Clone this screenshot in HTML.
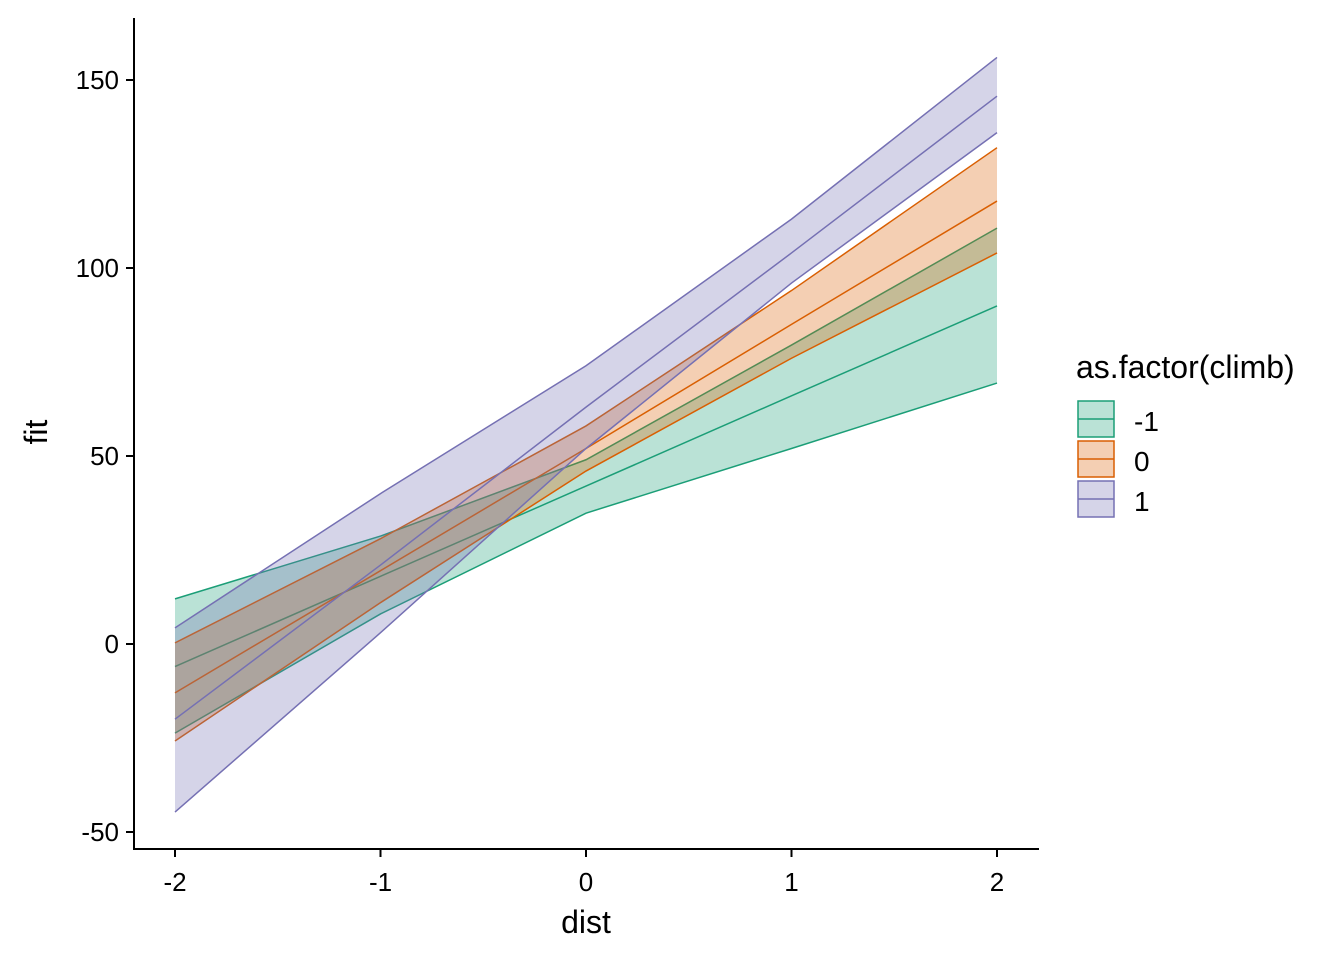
<!DOCTYPE html>
<html><head><meta charset="utf-8"><style>
body{margin:0;background:#fff}
svg{display:block;font-family:"Liberation Sans",Arial,sans-serif}
</style></head><body>
<svg id="c" width="1344" height="960"></svg>
<script>
const xs = [-2, -1, 0, 1, 2];
const groupNames = ["-1", "0", "1"];
const fitM1 = [-6, 18, 42, 66, 89.9];
const lowM1 = [-23.7, 8, 34.8, 52, 69.4];
const upM1 = [12, 28.7, 49, 79.5, 110.6];
const fit0 = [-13, 19.5, 52, 85, 117.8];
const low0 = [-25.8, 11, 46, 76, 104];
const up0 = [0.3, 28, 58, 94, 132];
const fit1 = [-20, 21, 63, 104, 145.7];
const low1 = [-44.7, 3, 52, 96, 136];
const up1 = [4.3, 40, 74, 113, 156];
const xTicks = [-2, -1, 0, 1, 2];
const yTicks = [-50, 0, 50, 100, 150];
const colors = ["#1B9E77", "#D95F02", "#7570B3"];
const series = [[fitM1, lowM1, upM1], [fit0, low0, up0], [fit1, low1, up1]];

const X = v => 175 + (v + 2) * 205.5;
const Y = v => 644 - v * 3.76;
const svg = document.getElementById('c');
const NS = 'http://www.w3.org/2000/svg';
function mk(t, a, p) { const e = document.createElementNS(NS, t); for (const k in a) e.setAttribute(k, a[k]); (p || svg).appendChild(e); return e; }

series.forEach((s, i) => {
  const g = mk('g', {});
  
  
  const pts = xs.map((x, j) => X(x) + ',' + Y(s[2][j])).concat(xs.slice().reverse().map((x, j) => X(x) + ',' + Y(s[1][xs.length - 1 - j])));
  const band = mk('polygon', { points: pts.join(' '), fill: colors[i], 'fill-opacity': 0.3, stroke: 'none' }, g);
  
  
  ['fit', 'lower', 'upper'].forEach((nm, k) => {
    const l = mk('polyline', { points: xs.map((x, j) => X(x) + ',' + Y(s[k][j])).join(' '), fill: 'none', stroke: colors[i], 'stroke-width': 1.5 }, g);
    
    
  });
});

const ax = mk('path', { d: 'M134,18 V849 H1039', stroke: '#000', 'stroke-width': 2, fill: 'none' });


xTicks.forEach(v => {
  mk('line', { x1: X(v), x2: X(v), y1: 849, y2: 857, stroke: '#000', 'stroke-width': 2 });
  const t = mk('text', { x: X(v), y: 891, 'text-anchor': 'middle', 'font-size': 26, fill: '#000' });
  t.textContent = v;
  
  
});
yTicks.forEach(v => {
  mk('line', { x1: 126, x2: 134, y1: Y(v), y2: Y(v), stroke: '#000', 'stroke-width': 2 });
  const t = mk('text', { x: 119, y: Y(v) + 9, 'text-anchor': 'end', 'font-size': 26, fill: '#000' });
  t.textContent = v;
  
  
});
const xt = mk('text', { x: 586, y: 933, 'text-anchor': 'middle', 'font-size': 32 });
xt.textContent = 'dist';


const yt = mk('text', { x: 47, y: 432, 'text-anchor': 'middle', 'font-size': 32, transform: 'rotate(-90 47 432)' });
yt.textContent = 'fit';



const lt = mk('text', { x: 1076, y: 378, 'font-size': 32 });
lt.textContent = 'as.factor(climb)';


groupNames.forEach((n, i) => {
  const g = mk('g', {});
  
  
  const y0 = 401 + i * 40;
  mk('rect', { x: 1078, y: y0, width: 36, height: 36, fill: colors[i], 'fill-opacity': 0.3, stroke: colors[i], 'stroke-width': 1.5 }, g);
  mk('line', { x1: 1078, x2: 1114, y1: y0 + 18, y2: y0 + 18, stroke: colors[i], 'stroke-width': 1.5 }, g);
  const t = mk('text', { x: 1134, y: y0 + 30, 'font-size': 28 }, g);
  t.textContent = n;
});
</script>
</body></html>
